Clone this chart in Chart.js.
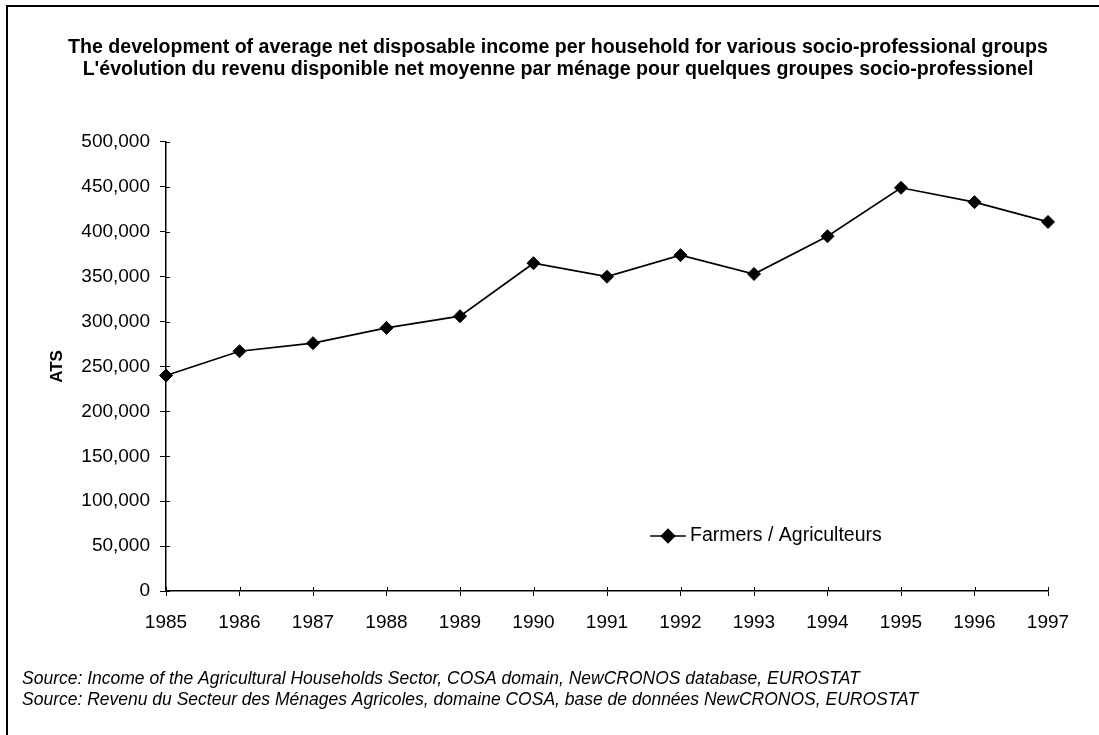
<!DOCTYPE html>
<html>
<head>
<meta charset="utf-8">
<title>Average net disposable income per household</title>
<script src="https://cdn.jsdelivr.net/npm/chart.js@4.4.0/dist/chart.umd.min.js"></script>
<style>
  body { margin: 0; background: #fff; }
  #wrap { width: 1099px; height: 735px; }
</style>
</head>
<body>
<div id="wrap"><canvas id="incomeChart" width="1099" height="735"></canvas></div>
<script>
// Chart data
let years = ["1985", "1986", "1987", "1988", "1989", "1990", "1991", "1992", "1993", "1994", "1995", "1996", "1997"];
let farmersIncome = [240000, 267000, 276000, 293000, 306000, 365000, 350000, 374000, 353000, 395000, 449000, 433000, 411000];
let seriesLabel = "Farmers / Agriculteurs";
let yAxisLabel = "ATS";
let yMin = 0;
let yMax = 500000;
let yStep = 50000;

let titleLines = [
  "The development of average net disposable income per household for various socio-professional groups",
  "L'évolution du revenu disponible net moyenne par ménage pour quelques groupes socio-professionel"
];
let sourceLines = [
  "Source: Income of the Agricultural Households Sector, COSA domain, NewCRONOS database, EUROSTAT",
  "Source: Revenu du Secteur des Ménages Agricoles, domaine COSA, base de données NewCRONOS, EUROSTAT"
];

const FONT = "'Liberation Sans', Arial, Helvetica, sans-serif";

// frame round the figure (only top and left edge are visible in the scan)
const framePlugin = {
  id: 'frame',
  afterDraw(chart) {
    let ctx = chart.ctx;
    ctx.save();
    ctx.strokeStyle = '#000';
    ctx.lineWidth = 2;
    ctx.beginPath();
    ctx.moveTo(7, chart.height);
    ctx.lineTo(7, 6);
    ctx.lineTo(chart.width, 6);
    ctx.stroke();
    ctx.restore();
  }
};

// small inward ticks so the tick marks cross the axis lines
const crossTicksPlugin = {
  id: 'crossTicks',
  afterDraw(chart) {
    let ctx = chart.ctx;
    let area = chart.chartArea;
    let xs = chart.scales.x;
    let ys = chart.scales.y;
    ctx.save();
    ctx.strokeStyle = '#000';
    ctx.lineWidth = 1;
    ctx.beginPath();
    ys.ticks.forEach((t, i) => {
      let y = Math.round(ys.getPixelForTick(i)) + 0.5;
      ctx.moveTo(area.left, y);
      ctx.lineTo(area.left + 4, y);
    });
    xs.ticks.forEach((t, i) => {
      let x = Math.round(xs.getPixelForTick(i)) + 0.5;
      ctx.moveTo(x, area.bottom);
      ctx.lineTo(x, area.bottom - 4);
    });
    ctx.stroke();
    ctx.restore();
  }
};

// legend inside the plot, like the Excel original
const innerLegendPlugin = {
  id: 'innerLegend',
  afterDraw(chart) {
    let ctx = chart.ctx;
    let ds = chart.data.datasets[0];
    let x = 668;
    let y = 536;
    ctx.save();
    ctx.strokeStyle = ds.borderColor;
    ctx.lineWidth = ds.borderWidth;
    ctx.beginPath();
    ctx.moveTo(x - 18, y);
    ctx.lineTo(x + 18, y);
    ctx.stroke();
    ctx.fillStyle = ds.pointBackgroundColor;
    Chart.helpers.drawPoint(ctx, { pointStyle: ds.pointStyle, radius: ds.pointRadius, borderWidth: 1 }, x, y);
    ctx.fillStyle = '#000';
    ctx.font = "19.5px " + FONT;
    ctx.textBaseline = 'middle';
    ctx.textAlign = 'left';
    ctx.fillText(ds.label, x + 22, y);
    ctx.restore();
  }
};

// source notes under the chart
const sourcePlugin = {
  id: 'sourceNotes',
  afterDraw(chart) {
    let ctx = chart.ctx;
    ctx.save();
    ctx.fillStyle = '#000';
    ctx.font = "italic 17.5px " + FONT;
    ctx.textBaseline = 'middle';
    ctx.textAlign = 'left';
    sourceLines.forEach((line, i) => {
      ctx.fillText(line, 22, 679 + i * 21);
    });
    ctx.restore();
  }
};

let ctx = document.getElementById('incomeChart').getContext('2d');

let incomeChart = new Chart(ctx, {
  type: 'line',
  data: {
    labels: years,
    datasets: [{
      label: seriesLabel,
      data: farmersIncome,
      borderColor: '#000',
      borderWidth: 1.7,
      backgroundColor: '#000',
      pointStyle: 'rectRot',
      pointRadius: 6.5,
      pointBackgroundColor: '#000',
      pointBorderColor: '#000',
      pointBorderWidth: 1,
      tension: 0,
      fill: false,
      clip: false
    }]
  },
  options: {
    responsive: false,
    animation: false,
    layout: {
      padding: { left: 68, right: 51, top: 0, bottom: 0 }
    },
    plugins: {
      legend: { display: false },
      tooltip: { enabled: false },
      title: {
        display: true,
        text: titleLines,
        color: '#000',
        font: { family: FONT, size: 19.6, weight: 'bold', lineHeight: 1.122 },
        padding: { top: 37, bottom: 61 }
      }
    },
    scales: {
      x: {
        type: 'category',
        offset: false,
        border: { display: true, color: '#000', width: 1.5 },
        grid: { drawOnChartArea: false, drawTicks: true, tickLength: 5, color: '#000', lineWidth: 1 },
        ticks: {
          color: '#000',
          font: { family: FONT, size: 19 },
          padding: 15,
          maxRotation: 0,
          autoSkip: false
        },
        afterFit(scale) { scale.height = 144; }
      },
      y: {
        min: yMin,
        max: yMax,
        border: { display: true, color: '#000', width: 1.5 },
        grid: { drawOnChartArea: false, drawTicks: true, tickLength: 6, color: '#000', lineWidth: 1 },
        ticks: {
          stepSize: yStep,
          color: '#000',
          font: { family: FONT, size: 19 },
          padding: 10,
          callback: (v) => v.toLocaleString('en-US')
        },
        title: {
          display: true,
          text: yAxisLabel,
          color: '#000',
          font: { family: FONT, size: 17, weight: 'bold' },
          padding: { top: -21, bottom: 0 }
        },
        afterFit(scale) { scale.width = 98; }
      }
    }
  },
  plugins: [framePlugin, crossTicksPlugin, innerLegendPlugin, sourcePlugin]
});
</script>
</body>
</html>
